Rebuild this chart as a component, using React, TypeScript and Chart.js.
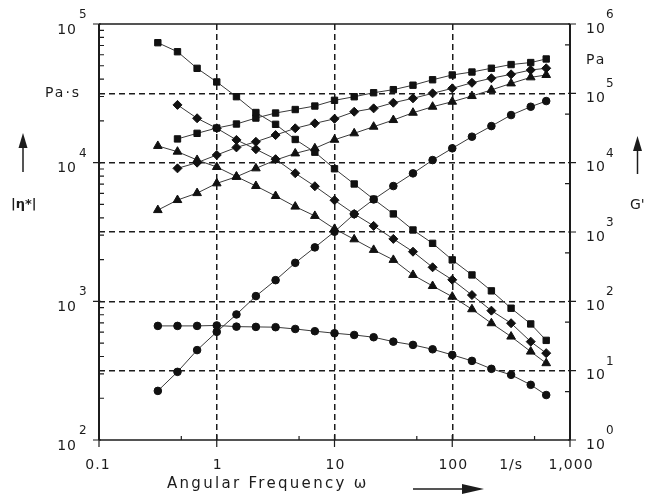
import React, { useEffect, useRef } from 'react';
import { Chart, registerables } from 'chart.js';

Chart.register(...registerables);

// Angular frequency ω in 1/s
const omega = [0.316, 0.464, 0.681, 1, 1.47, 2.15, 3.16, 4.64, 6.81, 10, 14.7, 21.5, 31.6, 46.4, 68.1, 100, 147, 215, 316, 464, 628];

// |η*| in Pa·s (left axis)
const etaSquares = [73300, 63100, 47900, 38200, 29900, 23000, 18900, 14700, 11900, 9040, 7020, 5450, 4270, 3270, 2620, 1990, 1550, 1190, 892, 687, 523];
const etaDiamonds = [null, 26100, 20900, 17700, 14600, 12500, 10600, 8390, 6760, 5360, 4270, 3500, 2820, 2280, 1760, 1430, 1110, 857, 695, 512, 423];
const etaTriangles = [13200, 12000, 10460, 9310, 7930, 6790, 5750, 4820, 4130, 3330, 2800, 2350, 1990, 1550, 1290, 1080, 877, 695, 557, 434, 358];
const etaCircles = [665, 665, 665, 670, 657, 654, 651, 632, 609, 589, 572, 551, 512, 485, 451, 411, 372, 326, 295, 250, 211];

// G' in Pa (right axis)
const gSquares = [null, 22000, 26500, 31600, 36100, 44000, 52000, 58400, 65600, 79300, 89300, 102000, 113000, 131000, 157000, 184000, 203000, 230000, 260000, 278000, 313000];
const gDiamonds = [null, 8280, 10000, 12900, 16600, 20000, 25000, 31300, 36900, 42900, 54300, 60700, 73200, 84700, 100000, 118000, 142000, 165000, 188000, 217000, 230000];
const gTriangles = [2070, 2890, 3640, 5030, 6260, 8280, 10900, 13600, 16100, 21400, 26500, 33000, 41200, 52500, 64100, 75700, 91400, 112000, 139000, 170000, 184000];
const gCircles = [5.11, 9.61, 19.8, 36.3, 64.7, 119, 202, 359, 600, 1010, 1810, 2950, 4600, 7010, 10900, 16100, 23700, 33700, 48600, 64100, 77400];

// Axis tick values and labels
const xDecades = [0.1, 1, 10, 100, 1000];
const xLabels = ['0.1', '1', '10', '100', '1,000'];
const leftDecades = [2, 3, 4, 5];
const rightDecades = [0, 1, 2, 3, 4, 5, 6];

const INK = '#1c1c1c';
const FONT = "'DejaVu Sans', sans-serif";

function drawArrowUp(ctx: CanvasRenderingContext2D, x: number, tip: number, base: number, end: number) {
  ctx.beginPath();
  ctx.moveTo(x, base);
  ctx.lineTo(x, end);
  ctx.lineWidth = 1.5;
  ctx.stroke();
  ctx.beginPath();
  ctx.moveTo(x, tip);
  ctx.lineTo(x - 4.5, base);
  ctx.lineTo(x + 4.5, base);
  ctx.closePath();
  ctx.fill();
}

const frame = {
  id: 'frame',
  afterDraw(chart: any) {
    const { ctx, chartArea: a, scales } = chart;
    const xs = scales.x, yl = scales.y, yr = scales.y2;
    ctx.save();
    ctx.strokeStyle = INK;
    ctx.fillStyle = INK;

    // plot frame
    ctx.lineWidth = 1.5;
    ctx.beginPath();
    ctx.moveTo(a.left, a.top);
    ctx.lineTo(a.right, a.top);
    ctx.moveTo(a.left, a.bottom);
    ctx.lineTo(a.right, a.bottom);
    ctx.stroke();
    ctx.lineWidth = 2;
    ctx.beginPath();
    ctx.moveTo(a.left, a.top);
    ctx.lineTo(a.left, a.bottom);
    ctx.moveTo(a.right, a.top);
    ctx.lineTo(a.right, a.bottom);
    ctx.stroke();

    // tick marks
    ctx.lineWidth = 1.2;
    ctx.beginPath();
    for (const e of leftDecades) {
      const y = yl.getPixelForValue(Math.pow(10, e));
      ctx.moveTo(a.left - 6, y);
      ctx.lineTo(a.left + 2, y);
      if (e < 5) {
        for (let m = 2; m <= 9; m++) {
          const ym = yl.getPixelForValue(m * Math.pow(10, e));
          ctx.moveTo(a.left, ym);
          ctx.lineTo(a.left + 5, ym);
        }
      }
    }
    for (const e of rightDecades) {
      const y = yr.getPixelForValue(Math.pow(10, e));
      ctx.moveTo(a.right - 2, y);
      ctx.lineTo(a.right + 6, y);
      if (e < 6) {
        const ym = yr.getPixelForValue(5 * Math.pow(10, e));
        ctx.moveTo(a.right, ym);
        ctx.lineTo(a.right - 5, ym);
      }
    }
    for (const v of xDecades) {
      const x = xs.getPixelForValue(v);
      ctx.moveTo(x, a.bottom - 5);
      ctx.lineTo(x, a.bottom + 7);
      if (v < 1000) {
        const xm = xs.getPixelForValue(5 * v);
        ctx.moveTo(xm, a.bottom);
        ctx.lineTo(xm, a.bottom - 4);
      }
    }
    ctx.stroke();

    // tick labels
    ctx.textBaseline = 'middle';
    (ctx as any).letterSpacing = '1px';
    for (const e of leftDecades) {
      const y = yl.getPixelForValue(Math.pow(10, e));
      ctx.font = `14px ${FONT}`;
      ctx.textAlign = 'right';
      ctx.fillText('10', 77, y + 6);
      ctx.font = `12px ${FONT}`;
      ctx.textAlign = 'left';
      ctx.fillText(String(e), 79, y - 9);
    }
    for (const e of rightDecades) {
      const y = yr.getPixelForValue(Math.pow(10, e));
      ctx.font = `14px ${FONT}`;
      ctx.textAlign = 'left';
      ctx.fillText('10', 586, y + 5);
      ctx.font = `12px ${FONT}`;
      ctx.fillText(String(e), 606, y - 9);
    }
    ctx.font = `14px ${FONT}`;
    ctx.textAlign = 'center';
    xDecades.forEach((v, i) => {
      ctx.fillText(xLabels[i], xs.getPixelForValue(v) + (i === 0 ? -1 : 1), 465);
    });
    ctx.fillText('1/s', xs.getPixelForValue(316), 465);

    // axis titles and units
    (ctx as any).letterSpacing = '2px';
    ctx.textAlign = 'left';
    ctx.fillText('Pa·s', 45, 93);
    ctx.fillText('Pa', 586, 60);
    ctx.font = `bold 13px ${FONT}`;
    (ctx as any).letterSpacing = '0px';
    ctx.fillText('|η*|', 11, 205);
    ctx.font = `14px ${FONT}`;
    ctx.fillText("G'", 630, 205);
    ctx.font = `15px ${FONT}`;
    (ctx as any).letterSpacing = '2.3px';
    ctx.fillText('Angular Frequency ω', 167, 484);

    // direction arrows
    drawArrowUp(ctx, 23, 133, 148, 172);
    drawArrowUp(ctx, 637.5, 136, 151, 174);
    ctx.beginPath();
    ctx.moveTo(413, 489);
    ctx.lineTo(466, 489);
    ctx.lineWidth = 1.5;
    ctx.stroke();
    ctx.beginPath();
    ctx.moveTo(484, 489);
    ctx.lineTo(462, 484);
    ctx.lineTo(462, 494);
    ctx.closePath();
    ctx.fill();

    ctx.restore();
  },
};

function series(label: string, vals: (number | null)[], axis: string, style: string, radius: number) {
  return {
    label,
    data: omega.map((x, i) => ({ x, y: vals[i] })),
    yAxisID: axis,
    pointStyle: style,
    pointRadius: radius,
    pointBackgroundColor: '#111',
    pointBorderColor: '#111',
    pointBorderWidth: 1,
    borderColor: '#3a3a3a',
    borderWidth: 1,
    fill: false,
    tension: 0,
  };
}

export default function App() {
  const ref = useRef<HTMLCanvasElement>(null);

  useEffect(() => {
    const canvas = ref.current;
    if (!canvas) return;
    const innerGrid = (vals: number[]) => (c: any) =>
      vals.some((v) => Math.abs(Math.log10(c.tick.value) - Math.log10(v)) < 1e-6) ? INK : 'rgba(0,0,0,0)';

    const chart = new Chart(canvas, {
      type: 'line',
      data: {
        datasets: [
          series('|η*| A', etaSquares, 'y', 'rect', 4.5),
          series("G' A", gSquares, 'y2', 'rect', 4.5),
          series('|η*| B', etaDiamonds, 'y', 'rectRot', 4.5),
          series("G' B", gDiamonds, 'y2', 'rectRot', 4.5),
          series('|η*| C', etaTriangles, 'y', 'triangle', 5),
          series("G' C", gTriangles, 'y2', 'triangle', 5),
          series('|η*| D', etaCircles, 'y', 'circle', 3.8),
          series("G' D", gCircles, 'y2', 'circle', 3.8),
        ] as any,
      },
      options: {
        responsive: false,
        animation: false,
        events: [],
        layout: { padding: { top: 24, left: 0, right: 0, bottom: 0 } },
        plugins: { legend: { display: false }, tooltip: { enabled: false } },
        scales: {
          x: {
            type: 'logarithmic',
            position: 'bottom',
            min: 0.1,
            max: 1000,
            afterBuildTicks: (s: any) => {
              s.ticks = xDecades.map((value) => ({ value }));
            },
            ticks: { display: false },
            grid: { color: innerGrid([1, 10, 100]), lineWidth: 1.5, drawTicks: false },
            border: { display: false, dash: [6, 4] },
            afterFit: (s: any) => {
              s.height = 56;
            },
          },
          y: {
            type: 'logarithmic',
            position: 'left',
            min: 100,
            max: 100000,
            ticks: { display: false },
            grid: { display: false },
            border: { display: false },
            afterFit: (s: any) => {
              s.width = 99;
            },
          },
          y2: {
            type: 'logarithmic',
            position: 'right',
            min: 1,
            max: 1000000,
            afterBuildTicks: (s: any) => {
              s.ticks = rightDecades.map((e) => ({ value: Math.pow(10, e) }));
            },
            ticks: { display: false },
            grid: { color: innerGrid([10, 100, 1000, 10000, 100000]), lineWidth: 1.5, drawTicks: false },
            border: { display: false, dash: [6, 4] },
            afterFit: (s: any) => {
              s.width = 75;
            },
          },
        } as any,
      },
      plugins: [frame],
    });
    return () => chart.destroy();
  }, []);

  return (
    <div style={{ position: 'absolute', left: 0, top: 0, width: 645, height: 496, background: '#fff' }}>
      <canvas ref={ref} width={645} height={496} />
    </div>
  );
}
